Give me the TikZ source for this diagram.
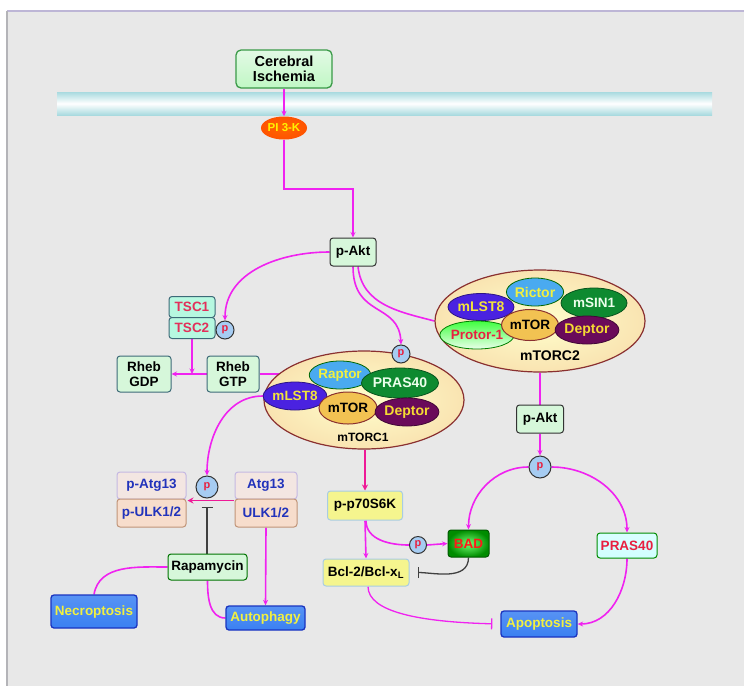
\documentclass[tikz,border=0pt]{standalone}
\usepackage{fontspec}
\setmainfont{Liberation Sans}
\usetikzlibrary{shapes.geometric,arrows.meta,calc}
\definecolor{bgc}{HTML}{E8E8E8}
\definecolor{topl}{HTML}{BDB6D6}
\definecolor{leftl}{HTML}{B4B4B8}
\definecolor{memb}{HTML}{A8DADF}
\definecolor{mag}{HTML}{F022F0}
\definecolor{inhc}{HTML}{404040}
\definecolor{lgreen}{HTML}{D6F7DA}
\definecolor{dgreen}{HTML}{3A9A48}
\definecolor{teal}{HTML}{3D6A78}
\definecolor{crim}{HTML}{E2305A}
\definecolor{pfill}{HTML}{A6CCF2}
\definecolor{pred}{HTML}{E82040}
\definecolor{bluet}{HTML}{2233BB}
\definecolor{peach}{HTML}{F7DDCC}
\definecolor{lav}{HTML}{F3E6E2}
\definecolor{lavb}{HTML}{C4B8E2}
\definecolor{peachb}{HTML}{C09478}
\definecolor{yel}{HTML}{F5F58E}
\definecolor{yelb}{HTML}{A8CCE4}
\definecolor{bluebox}{HTML}{3A80F2}
\definecolor{blueb}{HTML}{1A34C0}
\definecolor{ytext}{HTML}{F2F040}
\definecolor{cplxb}{HTML}{8A3030}
\definecolor{raptorc}{HTML}{4AAAF0}
\definecolor{prasc}{HTML}{0E8A30}
\definecolor{lstc}{HTML}{4A22E0}
\definecolor{deptc}{HTML}{6A0A5A}
\definecolor{mtorc}{HTML}{F2C252}
\pgfdeclarelayer{bg}
\pgfsetlayers{bg,main}
\tikzset{
  every node/.style={font=\fontsize{13.5}{15}\selectfont\bfseries},
  box/.style={draw, rounded corners=3pt, line width=1pt, inner sep=0pt, align=center},
  greenbox/.style={box, fill=lgreen, draw=dgreen},
  aktbox/.style={box, fill=lgreen, draw=black!80},
  tscbox/.style={box, fill=lgreen!85!cyan, draw=teal, text=crim},
  rhebbox/.style={box, fill=lgreen, draw=teal},
  atgbox/.style={box, fill=lav, draw=lavb, text=bluet},
  ulkbox/.style={box, fill=peach, draw=peachb, text=bluet},
  yelbox/.style={box, fill=yel, draw=yelb},
  bluebx/.style={box, draw=blueb, line width=1.3pt, top color=bluebox!85!white, bottom color=bluebox, text=ytext},
  pc/.style={circle, inner sep=0pt, minimum size=18pt, fill=pfill, draw=black!80, line width=1pt, text=pred, font=\fontsize{11}{12}\selectfont\bfseries},
  cplx/.style={ellipse, draw=cplxb, line width=1.2pt, inner color=white!80!yellow, outer color=mtorc!45!white, inner sep=0pt},
  comp/.style={ellipse, inner sep=0pt, line width=0.8pt},
  act/.style={draw=mag, line width=1.6pt, -{Stealth[length=5.5pt,width=5pt]}},
  con/.style={draw=mag, line width=1.6pt},
  inh/.style={draw=inhc, line width=1.3pt, -{Bar[width=11pt]}, shorten >=8pt},
  inhm/.style={draw=mag, line width=1.3pt, -{Bar[width=11pt]}, shorten >=8pt},
}
\begin{document}
\begin{tikzpicture}[x=1pt,y=-1pt]
\useasboundingbox (0,0) rectangle (744,686);
\begin{pgfonlayer}{bg}
\fill[white] (0,0) rectangle (744,686);
\fill[bgc] (7,11) rectangle (744,686);
\draw[topl, line width=1.6pt] (7,11) -- (744,11);
\draw[leftl, line width=1.6pt] (7,11) -- (7,686);
\shade[top color=memb, bottom color=memb, middle color=white] (57,92) rectangle (712,115);
\end{pgfonlayer}

% top
\node[greenbox, draw=dgreen, line width=1.3pt, rounded corners=5pt, top color=lgreen!70!white, bottom color=lgreen!90!green, minimum width=96pt, minimum height=38pt, font=\fontsize{14.5}{15.5}\selectfont\bfseries] (ci) at (284,69) {Cerebral\\Ischemia};
\node[ellipse, inner sep=0pt, minimum width=44pt, minimum height=23pt, inner color=orange!80!red, outer color=red!35!orange, text=yellow, font=\fontsize{11.5}{12}\selectfont\bfseries] (pi3k) at (284,128) {PI 3-K};
\coordinate (bend) at (353,189);
\node[aktbox, minimum width=46pt, minimum height=28pt] (akt) at (353,252) {p-Akt};

% TSC / Rheb
\node[tscbox, minimum width=46pt, minimum height=21pt] (tsc1) at (192,307) {TSC1};
\node[tscbox, minimum width=46pt, minimum height=21pt] (tsc2) at (192,328) {TSC2};
\node[pc] (ptsc) at (225,330) {p};
\node[rhebbox, minimum width=54pt, minimum height=36pt] (gdp) at (144,374) {Rheb\\GDP};
\node[rhebbox, minimum width=52pt, minimum height=36pt] (gtp) at (233,374) {Rheb\\GTP};
\coordinate (jn) at (tsc2.south |- gdp.east);

% mTORC1
\node[cplx, minimum width=200pt, minimum height=98pt] (c1) at (364,400) {};
\node[comp, fill=raptorc, draw=green!40!black, text=ytext, minimum width=56pt, minimum height=28pt] (raptor) at (340,375) {Raptor};
\node[comp, fill=prasc, draw=prasc!60!black, text=green!8!white, minimum width=70pt, minimum height=30pt, font=\fontsize{14}{15}\selectfont\bfseries] (pras1) at (400,383) {PRAS40};
\node[comp, fill=lstc, draw=lstc!60!black, text=ytext!90!orange, minimum width=54pt, minimum height=28pt] (lst1) at (295,396) {mLST8};
\node[comp, fill=mtorc, draw=cplxb, line width=1pt, text=black, minimum width=58pt, minimum height=32pt] (mtor1) at (348,408) {mTOR};
\node[comp, fill=deptc, draw=deptc!60!black, text=ytext!80!orange, minimum width=60pt, minimum height=28pt, font=\fontsize{14}{15}\selectfont\bfseries] (dep1) at (407,412) {Deptor};
\node[font=\fontsize{12}{13}\selectfont\bfseries] (c1lab) at (363,437) {mTORC1};
\node[pc] (pc1) at (401,354) {p};

% mTORC2
\node[cplx, minimum width=210pt, minimum height=102pt] (c2) at (540,321) {};
\node[comp, fill=raptorc, draw=green!40!black, text=ytext, minimum width=56pt, minimum height=28pt, font=\fontsize{14}{15}\selectfont\bfseries] (rictor) at (535,292) {Rictor};
\node[comp, fill=prasc, draw=prasc!60!black, text=green!8!white, minimum width=66pt, minimum height=30pt] (msin) at (594,303) {mSIN1};
\node[comp, fill=lstc, draw=lstc!60!black, text=ytext!90!orange, minimum width=58pt, minimum height=27pt, font=\fontsize{14}{15}\selectfont\bfseries] (lst2) at (481,307) {mLST8};
\node[comp, draw=green!50!black, top color=green!75!white, bottom color=green!8!white, text=pred, minimum width=64pt, minimum height=28pt] (protor) at (477,335) {Protor-1};
\node[comp, fill=mtorc, draw=cplxb, line width=1pt, text=black, minimum width=56pt, minimum height=31pt] (mtor2) at (530,325) {mTOR};
\node[comp, fill=deptc, draw=deptc!60!black, text=ytext!80!orange, minimum width=60pt, minimum height=28pt, font=\fontsize{14}{15}\selectfont\bfseries] (dep2) at (587,330) {Deptor};
\node[font=\fontsize{14}{15}\selectfont\bfseries] (c2lab) at (550,356) {mTORC2};

% right branch
\node[aktbox, minimum width=47pt, minimum height=28pt] (akt2) at (540,419) {p-Akt};
\node[pc, minimum size=22pt] (pa2) at (540,467) {p};
\node[box, draw=green!55!black, top color=white!85!cyan, bottom color=cyan!18!white, text=pred, minimum width=60pt, minimum height=25pt] (prasr) at (627,545.5) {PRAS40};
\node[bluebx, minimum width=76pt, minimum height=26pt] (apop) at (539,624) {Apoptosis};

% middle branch
\node[yelbox, minimum width=75pt, minimum height=29pt] (p70) at (365,505.5) {p-p70S6K};
\node[pc, minimum size=17pt] (ps) at (418,545) {p};
\node[box, draw=green!35!black, inner color=green!55!white, outer color=green!55!black, text=red!90!white, minimum width=41pt, minimum height=27pt] (bad) at (468.5,543.5) {BAD};
\node[yelbox, minimum width=86pt, minimum height=27pt] (bcl) at (366,572.5) {Bcl-2/Bcl-x\textsubscript{L}};

% left branch
\node[atgbox, minimum width=69pt, minimum height=27pt] (patg) at (151.5,485.5) {p-Atg13};
\node[ulkbox, minimum width=69pt, minimum height=28pt] (pulk) at (151.5,513) {p-ULK1/2};
\node[atgbox, minimum width=62pt, minimum height=27pt] (atg) at (266,485.5) {Atg13};
\node[ulkbox, minimum width=62pt, minimum height=28pt] (ulk) at (266,513) {ULK1/2};
\node[greenbox, draw=green!45!black, minimum width=79pt, minimum height=26pt] (rapa) at (207.5,567) {Rapamycin};
\node[bluebx, minimum width=86pt, minimum height=33pt] (necro) at (94,611.5) {Necroptosis};
\node[bluebx, minimum width=79pt, minimum height=24pt] (auto) at (265.5,618) {Autophagy};
\coordinate (atgL) at ($(atg.south west)+(-1,1)$);
\coordinate (patgR) at ($(patg.south east)+(1,1)$);
\draw[draw=magenta!90!white, line width=1.8pt, -{Stealth[length=6pt,width=6pt]}] (atgL) -- (patgR);
\node[pc, minimum size=22pt] (patgp) at (207,487) {p};
\coordinate (c1B) at (c1.south -| p70.north);
\draw[draw=magenta!90!white, line width=1.8pt, -{Stealth[length=6pt,width=6pt]}] (c1B) -- (p70.north);

% connectors
\begin{pgfonlayer}{bg}
\draw[act] (ci.south) -- (pi3k.north);
\draw[act] (pi3k.south) |- (bend) -- (akt.north);
\draw[act] (akt.west) to[out=180,in=90] (ptsc.north);
\draw[act] (tsc2.south) -- (jn);
\draw[act] (gtp.west) -- (gdp.east);
\draw[act] (gtp.east) -- (gtp.east -| raptor.west);
\draw[act] (akt.south) .. controls (353,318) and (399,302) .. (pc1.north);
\draw[con] ($(akt.south)+(5,0)$) .. controls (362,305) and (400,312) .. (c2.west);
\draw[con] (c2.south -| akt2.north) -- (akt2.north);
\draw[act] (akt2.south) -- (pa2.north);
\draw[act] (pa2.west) to[out=180,in=90] (bad.north);
\draw[act] (pa2.east) to[out=0,in=90] (prasr.north);
\draw[act] (prasr.south) to[out=-90,in=0] (apop.east);
\draw[con] ($(p70.south)+(1,0)$) to[out=-90,in=180] (ps.west);
\draw[act] (ps.east) -- (bad.west);
\draw[act] (p70.south) -- (bcl.north);
\draw[inh] (bad.south) to[out=-90,in=0] (bcl.east);
\draw[inhm] ($(bcl.south)+(2,0)$) .. controls (368,612) and (420,622) .. (apop.west);
\draw[act] (lst1.west) to[out=180,in=90] (patgp.north);
\draw[inh] (rapa.north -| patgp.south) -- (patgp.south);
\draw[con] (rapa.west) to[out=180,in=80] (necro.north);
\draw[con] (rapa.south) to[out=-90,in=180] (auto.west);
\draw[act] (ulk.south) -- (auto.north);
\end{pgfonlayer}
\end{tikzpicture}
\end{document}
